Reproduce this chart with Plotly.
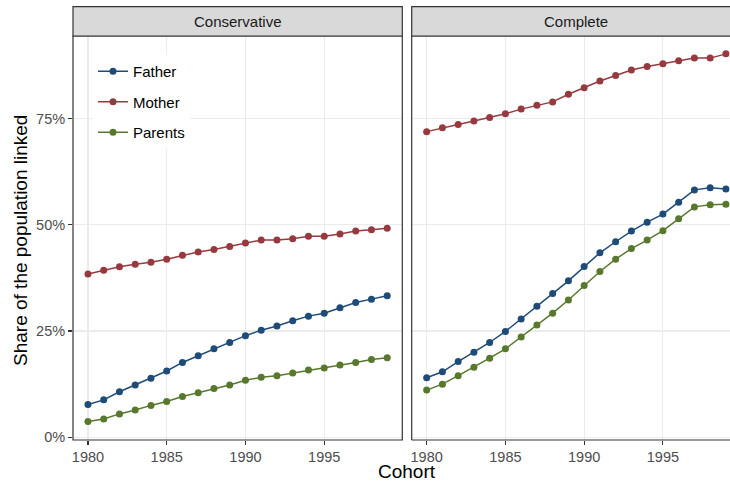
import plotly.graph_objects as go

years = list(range(1980, 2000))
series_names = ["Father", "Mother", "Parents"]
panel_names = ["Conservative", "Complete"]

cons_father = [7.7, 8.8, 10.7, 12.3, 13.9, 15.6, 17.6, 19.2, 20.8, 22.3, 23.9, 25.2, 26.2, 27.4, 28.5, 29.2, 30.5, 31.7, 32.5, 33.3]
cons_mother = [38.4, 39.3, 40.1, 40.7, 41.2, 41.9, 42.8, 43.6, 44.2, 44.9, 45.7, 46.4, 46.4, 46.7, 47.3, 47.3, 47.8, 48.5, 48.8, 49.2]
cons_parents = [3.7, 4.3, 5.5, 6.4, 7.5, 8.4, 9.6, 10.5, 11.5, 12.3, 13.4, 14.1, 14.5, 15.1, 15.8, 16.3, 17.0, 17.6, 18.3, 18.7]

comp_father = [14.0, 15.4, 17.8, 20.0, 22.3, 24.9, 27.8, 30.8, 33.8, 36.8, 40.2, 43.4, 46.0, 48.5, 50.6, 52.5, 55.3, 58.2, 58.7, 58.4]
comp_mother = [71.9, 72.8, 73.6, 74.4, 75.2, 76.1, 77.2, 78.1, 78.9, 80.7, 82.2, 83.8, 85.1, 86.4, 87.2, 87.9, 88.6, 89.2, 89.2, 90.2]
comp_parents = [11.1, 12.5, 14.5, 16.5, 18.6, 20.8, 23.6, 26.4, 29.2, 32.3, 35.7, 39.0, 41.9, 44.4, 46.4, 48.6, 51.4, 54.2, 54.7, 54.8]

y_ticks = [0, 25, 50, 75]
y_tick_labels = ["0%", "25%", "50%", "75%"]
x_ticks = [1980, 1985, 1990, 1995]

colors = {"Father": "#1E4B77", "Mother": "#963A40", "Parents": "#58782E"}
FONT = "Liberation Sans, Arial, sans-serif"

panels = {
    "Conservative": {"Father": cons_father, "Mother": cons_mother, "Parents": cons_parents},
    "Complete": {"Father": comp_father, "Mother": comp_mother, "Parents": comp_parents},
}

fig = go.Figure()
for pi, panel in enumerate(panel_names):
    for s in series_names:
        fig.add_trace(go.Scatter(
            x=years, y=panels[panel][s], mode="lines+markers", name=s,
            line=dict(color=colors[s], width=1.5),
            marker=dict(color=colors[s], size=7),
            xaxis="x" if pi == 0 else "x2", yaxis="y" if pi == 0 else "y2",
            showlegend=(pi == 0), legendgroup=s,
        ))

# page body margin is removed in post_script, so layout is in page pixels
W, H = 730, 484
ml, mr, mt = 73, 0, 36
mb = H - 440
pw = W - ml - mr
ph = H - mt - mb
left_end = 329.3 / pw
right_start = (411.7 - ml) / pw
px_per_year = 15.75
x0 = 1979.05
left_range = [x0, x0 + 329.3 / px_per_year]
right_range = [x0, x0 + (730 - 411.7) / px_per_year]
yr = [-0.64, 94.4]

TICKF = dict(family=FONT, size=14.5, color="#4D4D4D")
axis_common = dict(
    showgrid=True, gridcolor="#EBEBEB", gridwidth=1.1, zeroline=False,
    showline=False, tickwidth=1.1, tickcolor="#333333", tickfont=TICKF,
)

fig.update_layout(
    width=W, height=H,
    margin=dict(l=ml, r=mr, t=mt, b=mb, pad=0),
    paper_bgcolor="white", plot_bgcolor="white",
    font=dict(family=FONT),
    hovermode=False,
    xaxis=dict(domain=[0, left_end], range=left_range, tickmode="array", tickvals=x_ticks,
               ticks="outside", ticklen=4, **axis_common),
    xaxis2=dict(domain=[right_start, 1], range=right_range, tickmode="array", tickvals=x_ticks,
                ticks="outside", ticklen=4, **axis_common),
    yaxis=dict(domain=[0, 1], range=yr, tickmode="array", tickvals=y_ticks, ticktext=y_tick_labels,
               anchor="x", ticks="outside", ticklen=4, **axis_common),
    yaxis2=dict(domain=[0, 1], range=yr, tickmode="array", tickvals=y_ticks, anchor="x2",
                showticklabels=False, ticks="", **axis_common),
    legend=dict(x=(93 - ml) / pw, y=1 - (55 - mt) / ph, xanchor="left", yanchor="top", bgcolor="white",
                borderwidth=0, font=dict(family=FONT, size=15, color="#000000"),
                tracegroupgap=8, itemclick=False),
    showlegend=True,
)

shapes = []
strip_h = 29.3 / ph
BORDER = dict(color="#333333", width=1.2)
shapes.append(dict(type="rect", xref="x domain", yref="y domain", x0=0, x1=1, y0=0, y1=1,
                   line=BORDER, fillcolor="rgba(0,0,0,0)", layer="above"))
for (a, b, c, d) in [(0, 0, 1.05, 0), (0, 1, 1.05, 1), (0, 0, 0, 1)]:
    shapes.append(dict(type="line", xref="x2 domain", yref="y2 domain", x0=a, y0=b, x1=c, y1=d,
                       line=BORDER, layer="above"))
shapes.append(dict(type="rect", xref="x domain", yref="paper", x0=0, x1=1, y0=1, y1=1 + strip_h,
                   line=BORDER, fillcolor="#D9D9D9", layer="above"))
shapes.append(dict(type="rect", xref="x2 domain", yref="paper", x0=0, x1=1.08, y0=1, y1=1 + strip_h,
                   line=BORDER, fillcolor="#D9D9D9", layer="above"))
fig.update_layout(shapes=shapes)

STRIPF = dict(family=FONT, size=15, color="#1A1A1A")
annotations = [
    dict(text="Conservative", xref="x domain", yref="paper", x=0.5, y=1 + strip_h / 2,
         showarrow=False, font=STRIPF, xanchor="center", yanchor="middle"),
    dict(text="Complete", xref="paper", yref="paper",
         x=(576 - ml) / pw, y=1 + strip_h / 2,
         showarrow=False, font=STRIPF, xanchor="center", yanchor="middle"),
    dict(text="Cohort", xref="paper", yref="paper", x=(407 - ml) / pw,
         y=-(484 - 440) / ph, showarrow=False, font=dict(family=FONT, size=19, color="#000000"),
         xanchor="center", yanchor="bottom"),
    dict(text="Share of the population linked", xref="paper", yref="paper",
         x=(20 - ml) / pw, y=(440 - 241) / ph, textangle=-90, showarrow=False,
         font=dict(family=FONT, size=19, color="#000000"),
         xanchor="center", yanchor="middle"),
]
fig.update_layout(annotations=annotations)

fig.write_html(
    "out.html",
    config={"displayModeBar": False, "staticPlot": True},
    post_script="document.body.style.margin='0';document.body.style.overflow='hidden';",
)
